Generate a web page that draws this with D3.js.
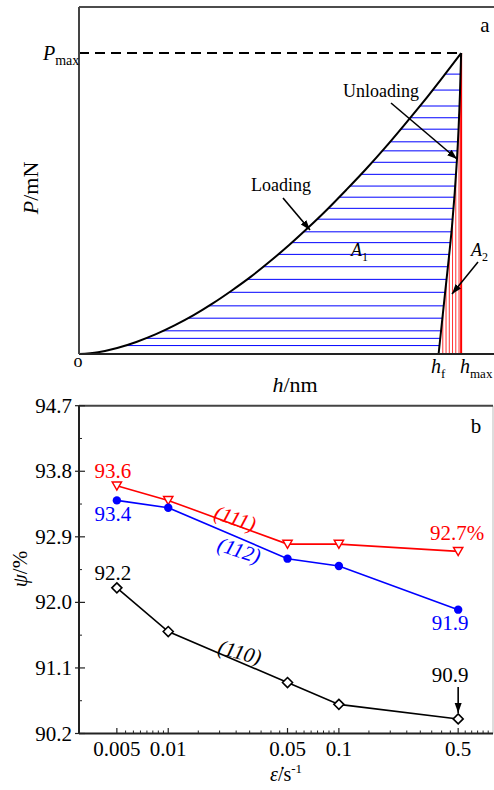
<!DOCTYPE html>
<html><head><meta charset="utf-8">
<script src="https://cdn.jsdelivr.net/npm/d3@7/dist/d3.min.js"></script>
<style>html,body{margin:0;padding:0;background:#fff;} text{font-family:'Liberation Serif','DejaVu Serif',serif;}</style>
</head><body>
<script>
// ---------- Panel a data (schematic load-depth curve) ----------
const hLoad = [0,5,10,15,20,25,30,35,40,45,50,55,60,65,70,75,80,85,90,95,100];
const pLoad = [0,0.6,2.0,4.0,6.5,9.5,12.9,16.8,21.1,25.7,30.8,36.2,42.0,48.1,54.6,61.3,68.4,75.9,83.6,91.7,100];
const hUnload = [94.1,95.8,97.6,98.9,99.7,100];
const pUnload = [0,20.3,42.3,64.5,86.7,100];
const hatchP = [2.8,5.2,7.7,11.9,16.0,20.5,24.8,29.0,33.1,37.0,40.6,44.8,48.4,52.1,55.8,59.7,63.7,67.5,70.5,74.7,78.5,82.4,87.7,93.0];
const redH = [95.2,96.05,96.9,97.75,98.6,99.45];
const hMax = 100, pMax = 100;

// ---------- Panel b data ----------
const rates = [0.005,0.01,0.05,0.1,0.5];
const rateLabels = ["0.005","0.01","0.05","0.1","0.5"];
const eta111 = [93.6,93.4,92.8,92.8,92.7];
const eta112 = [93.4,93.3,92.6,92.5,91.9];
const eta110 = [92.2,91.6,90.9,90.6,90.4];
const yTicks = [90.2,91.1,92.0,92.9,93.8,94.7];

const FONT = "Liberation Serif, DejaVu Serif, serif";
const W = 494, H = 790;
const svg = d3.select("body").append("svg").attr("width",W).attr("height",H)
  .attr("font-family",FONT).style("display","block");
const defs = svg.append("defs");
defs.append("marker").attr("id","arr").attr("viewBox","0 0 10 10").attr("refX",10).attr("refY",5)
  .attr("markerWidth",10).attr("markerHeight",10).attr("markerUnits","userSpaceOnUse").attr("orient","auto")
  .append("path").attr("d","M0,1.5 L10,5 L0,8.5 Z").attr("fill","#000");

// ================= Panel a =================
const ax = d3.scaleLinear().domain([0,108.6]).range([79,494]);
const ay = d3.scaleLinear().domain([0,115.3]).range([354,7]);
const ga = svg.append("g");

const loadInv = d3.scaleLinear().domain(pLoad).range(hLoad);
const unloadInv = d3.scaleLinear().domain(pUnload).range(hUnload);
const unloadP = d3.scaleLinear().domain(hUnload).range(pUnload).clamp(true);

// hatch A1 (blue)
ga.selectAll("line.hb").data(hatchP).join("line").attr("class","hb")
  .attr("x1",p=>ax(loadInv(p))).attr("x2",p=>ax(unloadInv(p)))
  .attr("y1",p=>ay(p)).attr("y2",p=>ay(p))
  .attr("stroke","#0000ff").attr("stroke-width",1);
// hatch A2 (red)
ga.selectAll("line.hr").data(redH).join("line").attr("class","hr")
  .attr("x1",h=>ax(h)).attr("x2",h=>ax(h))
  .attr("y1",ay(0)).attr("y2",h=>ay(unloadP(h)))
  .attr("stroke","#ff3030").attr("stroke-width",1);
ga.append("line").attr("x1",ax(hMax)).attr("x2",ax(hMax)).attr("y1",ay(0)).attr("y2",ay(pMax))
  .attr("stroke","#ff0000").attr("stroke-width",2);

// dashed Pmax
ga.append("line").attr("x1",ax(0)).attr("x2",ax(hMax)).attr("y1",ay(pMax)).attr("y2",ay(pMax))
  .attr("stroke","#000").attr("stroke-width",2).attr("stroke-dasharray","10,6");

const lineA = d3.line().x(d=>ax(d[0])).y(d=>ay(d[1])).curve(d3.curveMonotoneX);
ga.append("path").attr("d",lineA(hLoad.map((h,i)=>[h,pLoad[i]])))
  .attr("fill","none").attr("stroke","#000").attr("stroke-width",2);
const lineU = d3.line().x(d=>ax(d[0])).y(d=>ay(d[1])).curve(d3.curveMonotoneY);
ga.append("path").attr("d",lineU(hUnload.map((h,i)=>[h,pUnload[i]])))
  .attr("fill","none").attr("stroke","#000").attr("stroke-width",2);

// frame a
ga.append("line").attr("x1",79).attr("x2",494).attr("y1",7).attr("y2",7).attr("stroke","#111").attr("stroke-width",1.5);
ga.append("line").attr("x1",79).attr("x2",494).attr("y1",354).attr("y2",354).attr("stroke","#222").attr("stroke-width",2);
ga.append("line").attr("x1",79).attr("x2",79).attr("y1",7).attr("y2",354).attr("stroke","#444").attr("stroke-width",2);

// labels a
function sub(g, x, y, main, subtxt, size, subsize, italic, anchor){
  const t = g.append("text").attr("x",x).attr("y",y).attr("font-size",size).attr("text-anchor",anchor||"start");
  t.append("tspan").attr("font-style",italic?"italic":"normal").text(main);
  t.append("tspan").attr("font-size",subsize).attr("dy",size*0.25).text(subtxt);
  return t;
}
sub(ga,43,60,"P","max",20,14,true);
ga.append("text").attr("x",485).attr("y",32).attr("font-size",21).attr("text-anchor","middle").text("a");
ga.append("text").attr("x",381).attr("y",97).attr("font-size",18).attr("text-anchor","middle").text("Unloading");
ga.append("line").attr("x1",391).attr("y1",103).attr("x2",457).attr("y2",159).attr("stroke","#000").attr("stroke-width",1.6).attr("marker-end","url(#arr)");
ga.append("text").attr("x",281).attr("y",191).attr("font-size",18).attr("text-anchor","middle").text("Loading");
ga.append("line").attr("x1",283).attr("y1",198).attr("x2",310).attr("y2",230).attr("stroke","#000").attr("stroke-width",1.6).attr("marker-end","url(#arr)");
sub(ga,351,256,"A","1",18,12,true);
sub(ga,471,256,"A","2",18,12,true);
ga.append("line").attr("x1",478).attr("y1",262).attr("x2",452).attr("y2",294).attr("stroke","#000").attr("stroke-width",1.6).attr("marker-end","url(#arr)");
sub(ga,431,373,"h","f",20,13,true);
sub(ga,460,373,"h","max",20,13,true);
ga.append("text").attr("x",78).attr("y",367).attr("font-size",18).attr("text-anchor","middle").text("o");
const hl = ga.append("text").attr("x",295).attr("y",392).attr("font-size",22).attr("text-anchor","middle");
hl.append("tspan").attr("font-style","italic").text("h");
hl.append("tspan").text("/nm");
const pl = ga.append("text").attr("transform","translate(38,188) rotate(-90)").attr("font-size",22).attr("text-anchor","middle");
pl.append("tspan").attr("font-style","italic").text("P");
pl.append("tspan").text("/mN");

// ================= Panel b =================
const bx = d3.scaleLog().domain([0.003,0.8]).range([79,493]);
const by = d3.scaleLinear().domain([90.2,94.7]).range([733.5,405.7]);
const gb = svg.append("g");

// frame
gb.append("line").attr("x1",493).attr("x2",493).attr("y1",405.7).attr("y2",733.5).attr("stroke","#bbb").attr("stroke-width",1);
gb.append("line").attr("x1",79).attr("x2",493).attr("y1",405.7).attr("y2",405.7).attr("stroke","#444").attr("stroke-width",2);

// x axis ticks
const minorX = [];
for (let i=0;i<rates.length-1;i++){
  const a = rates[i], b = rates[i+1], st=(b-a)/8;
  for(let k=1;k<8;k++) minorX.push(a+k*st);
}
[0.55,0.6,0.65,0.7,0.75].forEach(v=>minorX.push(v));
gb.selectAll("line.mx").data(minorX).join("line").attr("class","mx")
  .attr("x1",d=>bx(d)).attr("x2",d=>bx(d)).attr("y1",733.5).attr("y2",730.5).attr("stroke","#222").attr("stroke-width",1);
gb.selectAll("line.Mx").data(rates).join("line").attr("class","Mx")
  .attr("x1",d=>bx(d)).attr("x2",d=>bx(d)).attr("y1",733.5).attr("y2",728).attr("stroke","#222").attr("stroke-width",1.2);
gb.selectAll("text.xt").data(rates).join("text").attr("class","xt")
  .attr("x",d=>bx(d)).attr("y",756).attr("font-size",21).attr("text-anchor","middle").text((d,i)=>rateLabels[i]);

// y axis ticks
const minorY = yTicks.slice(0,-1).map((v,i)=>(v+yTicks[i+1])/2);
gb.selectAll("line.my").data(minorY).join("line").attr("class","my")
  .attr("x1",79).attr("x2",82).attr("y1",d=>by(d)).attr("y2",d=>by(d)).attr("stroke","#222").attr("stroke-width",1);
gb.selectAll("line.My").data(yTicks).join("line").attr("class","My")
  .attr("x1",75).attr("x2",85).attr("y1",d=>by(d)).attr("y2",d=>by(d)).attr("stroke","#222").attr("stroke-width",1.2);
gb.selectAll("text.yt").data(yTicks).join("text").attr("class","yt")
  .attr("x",72).attr("y",d=>by(d)+7).attr("font-size",21).attr("text-anchor","end").text(d=>d.toFixed(1));

// axes lines
gb.append("line").attr("x1",79).attr("x2",493).attr("y1",733.5).attr("y2",733.5).attr("stroke","#222").attr("stroke-width",2);
gb.append("line").attr("x1",79).attr("x2",79).attr("y1",405.7).attr("y2",733.5).attr("stroke","#222").attr("stroke-width",2);

// series
const lineB = d3.line().x(d=>bx(d[0])).y(d=>by(d[1]));
const series = [
  {vals:eta111,color:"#ff0000",shape:"tri"},
  {vals:eta112,color:"#0000ff",shape:"circ"},
  {vals:eta110,color:"#000000",shape:"dia"}
];
series.forEach(s=>{
  gb.append("path").attr("d",lineB(rates.map((r,i)=>[r,s.vals[i]])))
    .attr("fill","none").attr("stroke",s.color).attr("stroke-width",1.6);
});
series.forEach(s=>{
  const pts = rates.map((r,i)=>[bx(r),by(s.vals[i])]);
  if (s.shape==="tri"){
    gb.selectAll(null).data(pts).join("path")
      .attr("d",d=>`M${d[0]-4.6},${d[1]-3.8} L${d[0]+4.6},${d[1]-3.8} L${d[0]},${d[1]+4.2} Z`)
      .attr("fill","#fff").attr("stroke",s.color).attr("stroke-width",1.5);
  } else if (s.shape==="circ"){
    gb.selectAll(null).data(pts).join("circle").attr("cx",d=>d[0]).attr("cy",d=>d[1]).attr("r",4.2)
      .attr("fill",s.color);
  } else {
    gb.selectAll(null).data(pts).join("path")
      .attr("d",d=>`M${d[0]},${d[1]-5} L${d[0]+5},${d[1]} L${d[0]},${d[1]+5} L${d[0]-5},${d[1]} Z`)
      .attr("fill","#fff").attr("stroke",s.color).attr("stroke-width",1.6);
  }
});

// value annotations
const ann = [
  {t:"93.6",x:bx(rates[0])-4,y:by(eta111[0])-8,c:"#ff0000"},
  {t:"93.4",x:bx(rates[0])-4,y:by(eta112[0])+21,c:"#0000ff"},
  {t:"92.2",x:bx(rates[0])-4,y:by(eta110[0])-8,c:"#000"},
  {t:"92.7%",x:bx(rates[4])-1,y:by(eta111[4])-11,c:"#ff0000"},
  {t:"91.9",x:bx(rates[4])-8,y:by(eta112[4])+20,c:"#0000ff"},
  {t:"90.9",x:bx(rates[4])-8,y:682,c:"#000"}
];
gb.selectAll("text.ann").data(ann).join("text").attr("class","ann")
  .attr("x",d=>d.x).attr("y",d=>d.y).attr("fill",d=>d.c).attr("font-size",21).attr("text-anchor","middle").text(d=>d.t);
gb.append("line").attr("x1",bx(rates[4])).attr("x2",bx(rates[4])).attr("y1",687).attr("y2",713)
  .attr("stroke","#000").attr("stroke-width",1.6).attr("marker-end","url(#arr)");

// series names
const names = [
  {t:"(111)",x:233,y:525,r:18,c:"#ff0000"},
  {t:"(112)",x:237,y:557,r:18,c:"#0000ff"},
  {t:"(110)",x:238,y:659,r:15,c:"#000"}
];
gb.selectAll("text.nm").data(names).join("text").attr("class","nm")
  .attr("transform",d=>`translate(${d.x},${d.y}) rotate(${d.r})`).attr("fill",d=>d.c)
  .attr("font-size",21).attr("font-style","italic").attr("text-anchor","middle").text(d=>d.t);

gb.append("text").attr("x",476).attr("y",433).attr("font-size",21).attr("text-anchor","middle").text("b");

// axis titles b
const yl = gb.append("text").attr("transform","translate(27,569) rotate(-90)").attr("font-size",21).attr("text-anchor","middle");
yl.append("tspan").attr("font-style","italic").text("ψ");
yl.append("tspan").text("/%");
const xl = gb.append("text").attr("x",270).attr("y",781).attr("font-size",20);
xl.append("tspan").attr("font-style","italic").text("ε̇");
xl.append("tspan").text("/s");
xl.append("tspan").attr("font-size",13).attr("dy",-8).text("-1");
</script>
</body></html>
